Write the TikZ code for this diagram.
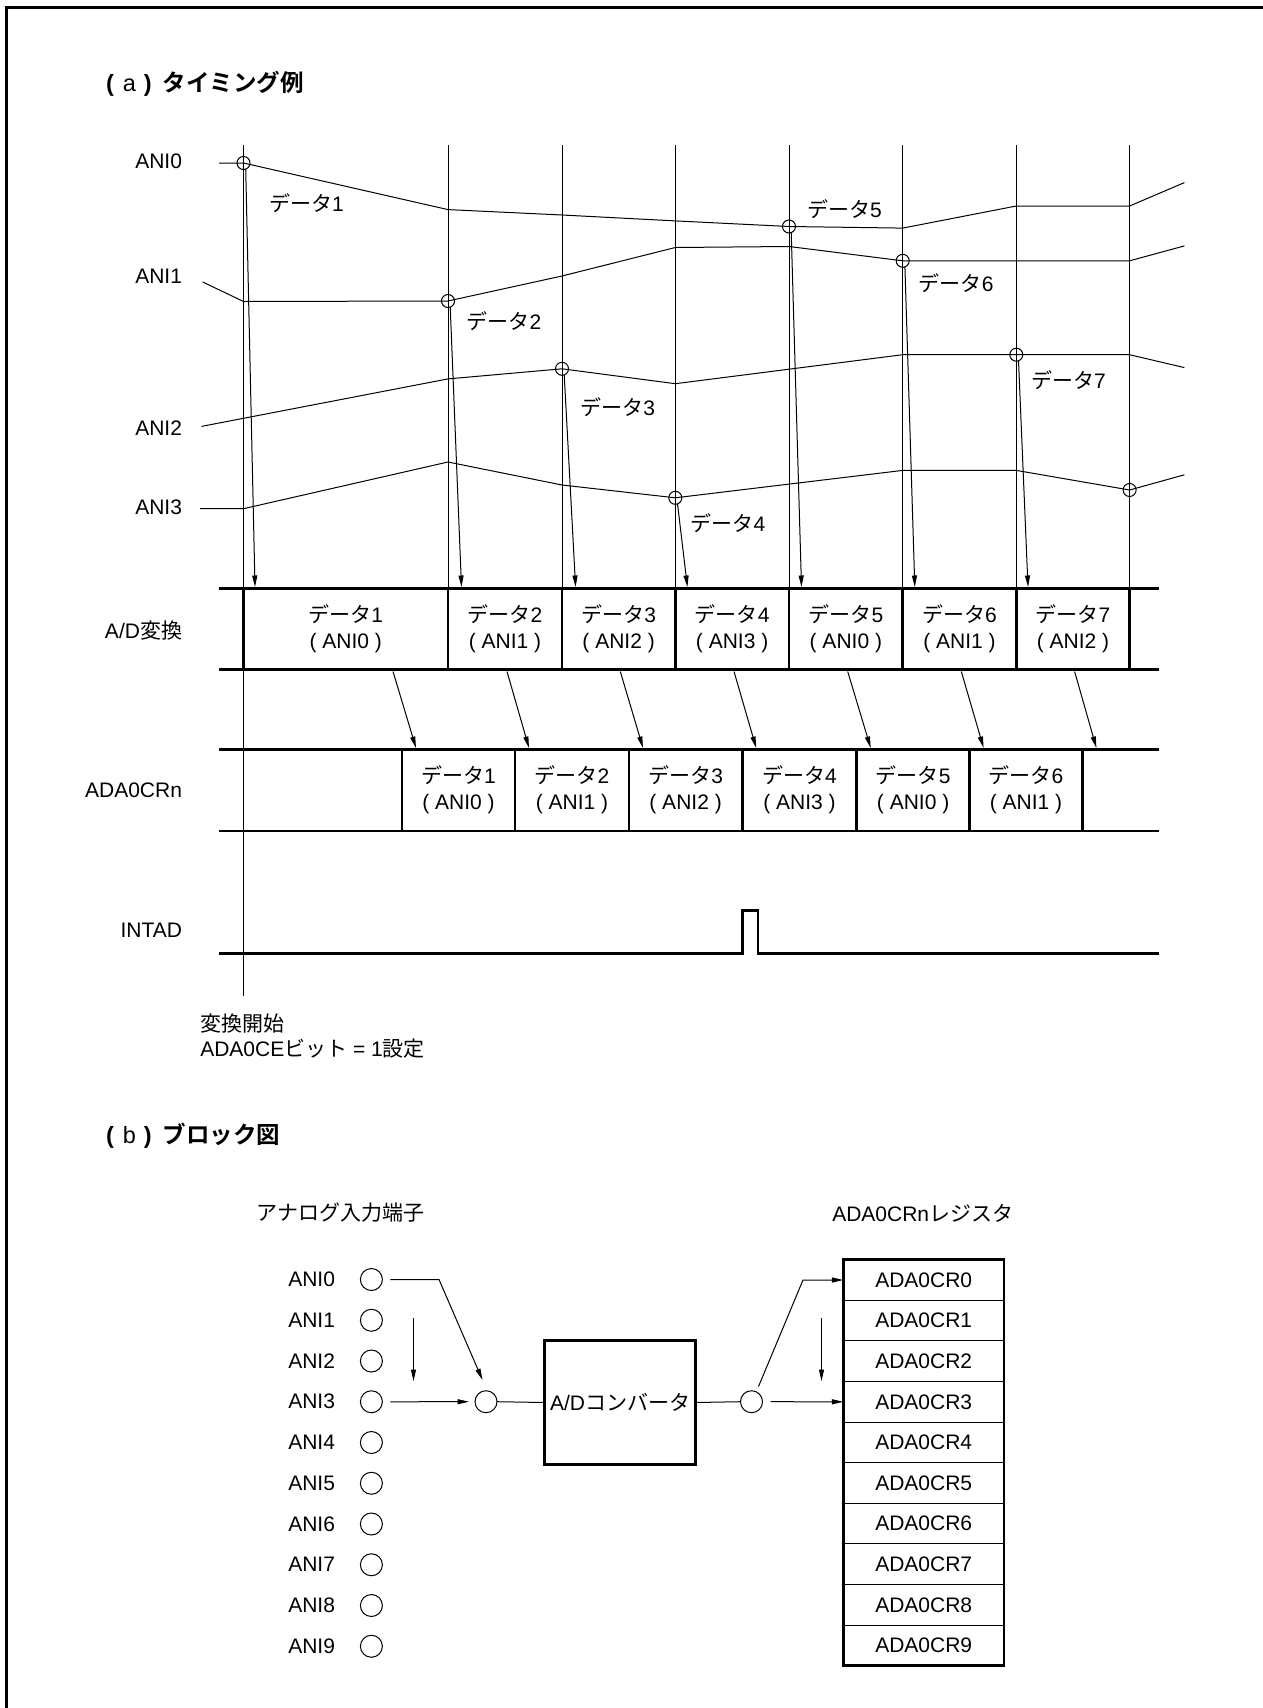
\documentclass[tikz,border=0pt]{standalone}
\usepackage{fontspec}
\setmainfont{Liberation Sans}
\newfontfamily\jp{Noto Sans CJK JP}[BoldFont={Noto Sans CJK JP Bold}]
\usetikzlibrary{arrows.meta}
\begin{document}
\begin{tikzpicture}[x=1pt,y=-1pt,
  every node/.style={inner sep=0pt, outer sep=0pt, font=\fontsize{21}{26}\selectfont},
  thinln/.style={line width=1pt},
  busln/.style={line width=2.8pt},
  sigdot/.style={circle, draw, line width=1pt, minimum size=13pt},
  pinc/.style={circle, draw, line width=1pt, minimum size=22pt},
  arr/.style={line width=1pt, -{Triangle[length=11.5pt,width=5pt]}},
  lbl/.style={anchor=east},
  dlbl/.style={anchor=west},
  cell/.style={align=center},
  regcell/.style={draw, line width=1pt, minimum width=160.6pt, minimum height=40.6pt},
  ttl/.style={anchor=west, font=\fontsize{23.5}{28}\selectfont},
]
\useasboundingbox (0,0) rectangle (1263,1708);
% frame
\draw[line width=2.2pt] (6.5,1708) -- (6.5,7.5) -- (1263,7.5);

% ---------------- (a) timing ----------------
\node[ttl] (ttla) at (106,84) {{\bfseries (}\hspace{9pt}a\hspace{8pt}{\bfseries )}\hspace{11pt}{\jp\bfseries タイミング例}};

% signal labels
\node[lbl] (lani0) at (182,161) {ANI0};
\node[lbl] (lani1) at (182,276.5) {ANI1};
\node[lbl] (lani2) at (182,428) {ANI2};
\node[lbl] (lani3) at (182,507) {ANI3};
\node[lbl] (lad) at (182,630.7) {A/D{\jp 変換}};
\node[lbl] (lcr) at (182,790.7) {ADA0CRn};
\node[lbl] (lint) at (182,929.8) {INTAD};

% grid lines
\draw[thinln] (243.5,145) -- (243.5,995.5);
\foreach \x in {448,562,675.3,789,902.7,1016.3,1129.6}
  \draw[thinln] (\x,145) -- (\x,588.5);

% analog signals
\draw[thinln] (219,163) -- (243.5,163) -- (448,209.6) -- (562,215) -- (675.3,220.9) -- (789,226.5) -- (902.7,228.1) -- (1016.3,206) -- (1129.6,206) -- (1184.4,182.6);
\draw[thinln] (202.7,282) -- (243.5,301.5) -- (448,301) -- (562,276) -- (675.3,247.5) -- (789,246.5) -- (902.7,260.8) -- (1129.6,260.8) -- (1184.4,245.9);
\draw[thinln] (201.5,426.4) -- (448,378.9) -- (562,368.8) -- (675.3,383.7) -- (902.7,354.7) -- (1129.6,354.7) -- (1184.4,367.6);
\draw[thinln] (200,508.7) -- (243.5,508.7) -- (448,462) -- (562,485) -- (675.3,497.8) -- (902.7,470.4) -- (1016.3,470.4) -- (1129.6,490) -- (1184.4,474.8);

% sample points
\node[sigdot] (d1) at (243.5,163) {};
\node[sigdot] (d2) at (448,301) {};
\node[sigdot] (d3) at (562,368.8) {};
\node[sigdot] (d4) at (675.3,497.8) {};
\node[sigdot] (d5) at (789,226.5) {};
\node[sigdot] (d6) at (902.7,260.8) {};
\node[sigdot] (d7) at (1016.3,354.7) {};
\node[sigdot] (d8) at (1129.6,490) {};

% data labels
\node[dlbl] (t1) at (269,203.5) {{\jp データ}1};
\node[dlbl] (t2) at (466.7,321.6) {{\jp データ}2};
\node[dlbl] (t3) at (580.4,407) {{\jp データ}3};
\node[dlbl] (t4) at (690.7,522.8) {{\jp データ}4};
\node[dlbl] (t5) at (807,209.6) {{\jp データ}5};
\node[dlbl] (t6) at (918.8,283.4) {{\jp データ}6};
\node[dlbl] (t7) at (1031,379.7) {{\jp データ}7};

% sample arrows
\coordinate (a1) at (255,587);
\coordinate (a2) at (461.5,587);
\coordinate (a3) at (575.6,587);
\coordinate (a4) at (687.4,587);
\coordinate (a5) at (801.5,587);
\coordinate (a6) at (914.8,587);
\coordinate (a7) at (1028,587);
\foreach \i in {1,...,7}
  \draw[arr] (d\i.-70) -- (a\i);

% A/D conversion band
\draw[busln] (219,588.5) -- (1159,588.5);
\draw[busln] (219,669.8) -- (1159,669.8);
\foreach \x in {243.5,448,562,675.3,789,902.7,1016.3,1129.6}
  \draw[busln] (\x,588.5) -- (\x,669.8);
\node[cell] (ad1) at (345.75,629) {{\jp データ}1\\( ANI0 )};
\node[cell] (ad2) at (505,629) {{\jp データ}2\\( ANI1 )};
\node[cell] (ad3) at (618.65,629) {{\jp データ}3\\( ANI2 )};
\node[cell] (ad4) at (732.15,629) {{\jp データ}4\\( ANI3 )};
\node[cell] (ad5) at (845.85,629) {{\jp データ}5\\( ANI0 )};
\node[cell] (ad6) at (959.5,629) {{\jp データ}6\\( ANI1 )};
\node[cell] (ad7) at (1072.95,629) {{\jp データ}7\\( ANI2 )};

% ADA0CRn band
\draw[busln] (219,749.6) -- (1159,749.6);
\draw[busln] (219,831) -- (1159,831);
\foreach \x in {402,515,629,742.2,856.7,969.6,1082.4}
  \draw[busln] (\x,749.6) -- (\x,831);
\node[cell] (cr1) at (458.5,790) {{\jp データ}1\\( ANI0 )};
\node[cell] (cr2) at (572,790) {{\jp データ}2\\( ANI1 )};
\node[cell] (cr3) at (685.6,790) {{\jp データ}3\\( ANI2 )};
\node[cell] (cr4) at (799.45,790) {{\jp データ}4\\( ANI3 )};
\node[cell] (cr5) at (913.15,790) {{\jp データ}5\\( ANI0 )};
\node[cell] (cr6) at (1026,790) {{\jp データ}6\\( ANI1 )};

% transfer arrows
\foreach \s/\t [count=\i] in {393/416,507/529,620.3/643,734/756.2,847.7/870.7,961.3/983.6,1074.6/1096.4}{
  \coordinate (ts\i) at (\s,671.5);
  \coordinate (tt\i) at (\t,748);
  \draw[arr] (ts\i) -- (tt\i);
}

% INTAD
\draw[busln] (219,953.5) -- (742.2,953.5) -- (742.2,910.8) -- (758,910.8) -- (758,953.5) -- (1159,953.5);

% start note
\node[anchor=west] (st1) at (200.3,1023.7) {\jp 変換開始};
\node[anchor=west] (st2) at (200.3,1048.7) {ADA0CE{\jp ビット} = 1{\jp 設定}};

% ---------------- (b) block ----------------
\node[ttl] (ttlb) at (106,1136) {{\bfseries (}\hspace{9pt}b\hspace{8pt}{\bfseries )}\hspace{11pt}{\jp\bfseries ブロック図}};

\node (hin) at (340.3,1213) {\jp アナログ入力端子};
\node (hreg) at (922.7,1213) {ADA0CRn{\jp レジスタ}};

\foreach \i in {0,...,9}{
  \node[pinc] (p\i) at (371.4,1279.5+40.75*\i) {};
  \node[lbl] (lp\i) at (335,1279.5+40.75*\i) {ANI\i};
}

\node[pinc] (mux) at (486,1401.7) {};
\node[draw, line width=2.6pt, minimum width=151pt, minimum height=124pt] (adc) at (620,1402.5) {A/D{\jp コンバータ}};
\node[pinc] (c2) at (751.5,1401.7) {};

\coordinate (m0) at (439,1279.5);
\coordinate (m0t) at (482.5,1380);
\draw[arr] ([xshift=8pt]p0.east) -- (m0) -- (m0t);
\draw[arr] ([xshift=8pt]p3.east) -- ([xshift=-6pt]mux.west);
\coordinate (va1) at (413.5,1318);
\coordinate (vb1) at (413.5,1381);
\draw[arr] (va1) -- (vb1);
\draw[thinln] (mux.east) -- (adc.west);
\draw[thinln] (adc.east) -- (c2.west);

% register file
\foreach \i in {0,...,9}
  \node[regcell] (r\i) at (923.7,1280+40.6*\i) {ADA0CR\i};
\draw[line width=2.6pt] (r0.north west) rectangle (r9.south east);

\coordinate (c2o) at (758.5,1386.5);
\coordinate (c2b) at (803,1280);
\draw[arr] (c2o) -- (c2b) -- (r0.west);
\draw[arr] ([xshift=8pt]c2.east) -- (r3.west);
\coordinate (va2) at (821.5,1318);
\coordinate (vb2) at (821.5,1381);
\draw[arr] (va2) -- (vb2);
\end{tikzpicture}
\end{document}
